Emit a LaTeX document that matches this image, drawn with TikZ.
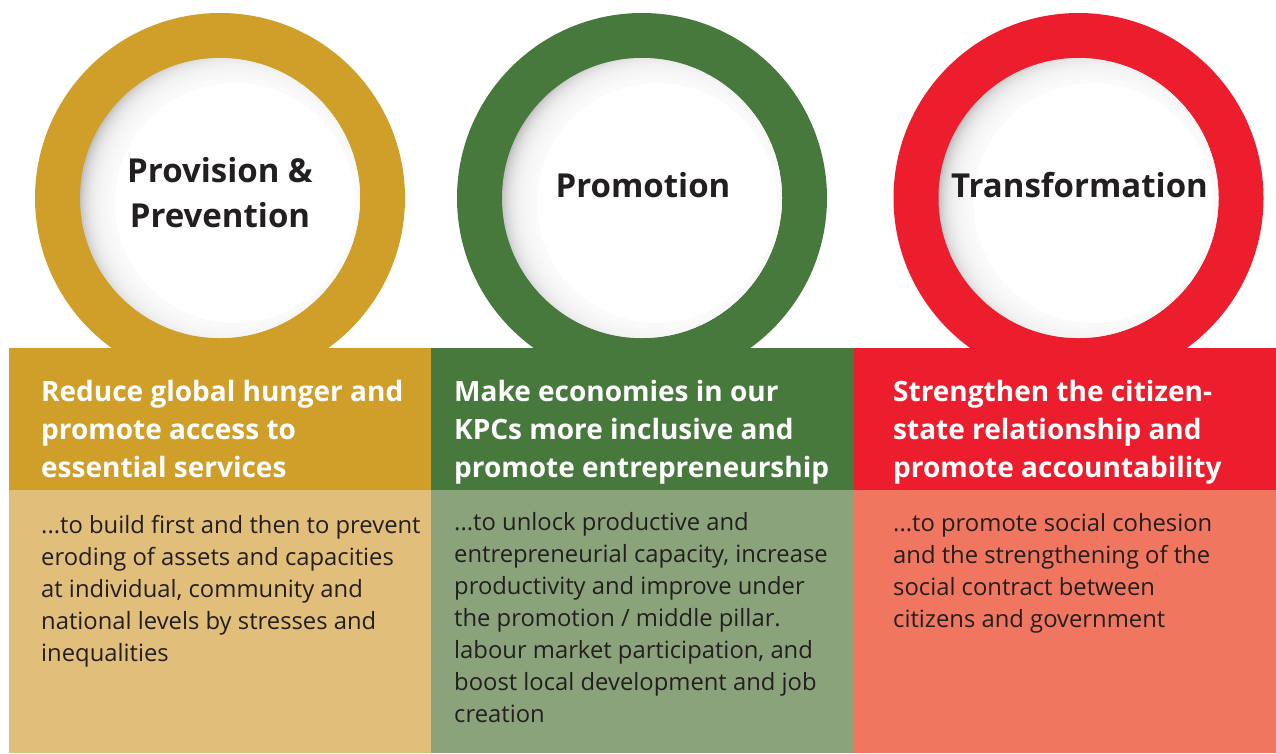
\documentclass[tikz,border=0pt]{standalone}
\usepackage{fontspec}
\setmainfont{Open Sans}
\definecolor{goldD}{RGB}{208,159,42}
\definecolor{goldL}{RGB}{225,190,121}
\definecolor{greenD}{RGB}{71,121,61}
\definecolor{greenL}{RGB}{139,163,123}
\definecolor{redD}{RGB}{236,30,46}
\definecolor{redL}{RGB}{240,118,96}
\definecolor{ink}{RGB}{35,31,32}
\definecolor{shadowgray}{RGB}{192,192,192}
\newcommand\leftlines[1]{\vtop{\halign{##\hfil\cr#1\crcr}}}
\newcommand\midlines[1]{\vtop{\halign{\hfil##\hfil\cr#1\crcr}}}
\tikzset{
  titletext/.style={font=\fontsize{33}{45}\selectfont\bfseries, text=ink, inner sep=0pt, anchor=base},
  headtext/.style={font=\fontsize{28}{38}\selectfont\bfseries, text=white, anchor=base west, inner sep=0pt},
  bodytext/.style={font=\fontsize{23.8}{32}\selectfont, text=ink, anchor=base west, inner sep=0pt},
  pics/ring/.style={code={
    \fill[#1] (0,0) circle[radius=185pt];
    \begin{scope}
      \clip (0,0) circle[radius=140pt];
      \fill[shadowgray] (0,0) circle[radius=140pt];
      \foreach \r in {122,124,...,154} \fill[white,opacity=0.18] (15,5) circle[radius=\r pt];
      \fill[white] (15,5) circle[radius=120pt];
    \end{scope}
  }}
}
\begin{document}
\begin{tikzpicture}[x=1pt,y=-1pt]
\useasboundingbox (0,0) rectangle (1276,753);
% rings
\pic at (220,198) {ring=goldD};
\pic at (642,198) {ring=greenD};
\pic at (1078.5,198) {ring=redD};
% header bands
\fill[goldD] (9,348) rectangle (431,490);
\fill[greenD] (431,348) rectangle (854,490);
\fill[redD] (854,348) rectangle (1276,490);
% body bands
\fill[goldL] (9,490) rectangle (431,753);
\fill[greenL] (431,490) rectangle (854,753);
\fill[redL] (854,490) rectangle (1276,753);
% titles
\node[titletext] (t1) at (220,182) {\midlines{Provision \&\cr Prevention}};
\node[titletext] (t2) at (643,197) {Promotion};
\node[titletext] (t3) at (1079.5,197) {Transformation};
% headers
\node[headtext] (h1) at (41,401) {\leftlines{Reduce global hunger and\cr promote access to\cr essential services}};
\node[headtext] (h2) at (454,401) {\leftlines{Make economies in our\cr KPCs more inclusive and\cr promote entrepreneurship}};
\node[headtext] (h3) at (893,401) {\leftlines{Strengthen the citizen-\cr state relationship and\cr promote accountability}};
% bodies
\node[bodytext] (b1) at (41,533) {\leftlines{...to build first and then to prevent\cr eroding of assets and capacities\cr at individual, community and\cr national levels by stresses and\cr inequalities}};
\node[bodytext] (b2) at (454,530) {\leftlines{...to unlock productive and\cr entrepreneurial capacity, increase\cr productivity and improve under\cr the promotion / middle pillar.\cr labour market participation, and\cr boost local development and job\cr creation}};
\node[bodytext] (b3) at (893,531) {\leftlines{...to promote social cohesion\cr and the strengthening of the\cr social contract between\cr citizens and government}};
\end{tikzpicture}
\end{document}
